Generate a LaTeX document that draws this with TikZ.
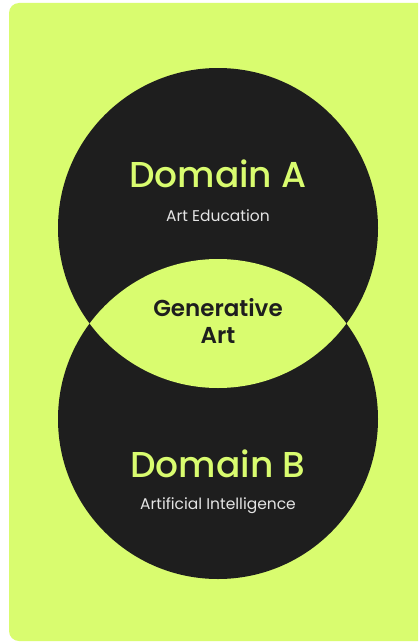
\documentclass[tikz,border=0pt]{standalone}
\usepackage{fontspec}
\setmainfont{Poppins}
\newfontfamily\medfont{Poppins Medium}
\newfontfamily\semifont{Poppins SemiBold}
\definecolor{lime}{HTML}{D9FC6F}
\definecolor{ink}{HTML}{1E1E1E}
\definecolor{pale}{HTML}{E4E4E4}
\def\rad{160}
\def\cx{218}

\begin{document}
\begin{tikzpicture}[x=1pt,y=-1pt,
    domaincircle/.style={
      circle,fill=ink,minimum size=320pt,inner sep=0pt
    },
    titletext/.style={
      anchor=base,inner sep=0pt,text=lime,font=\medfont\fontsize{36}{40}\selectfont
    },
    subtext/.style={
      anchor=base,inner sep=0pt,text=pale,font=\fontsize{15.5}{18}\selectfont
    },
    lenstext/.style={
      anchor=base,inner sep=0pt,text=ink,font=\semifont\fontsize{23}{26}\selectfont
    }
  ]
    \useasboundingbox (0,0) rectangle (418,642);
    \clip (0,0) rectangle (418,642);
    \fill[white] (0,0) rectangle (418,642);
    \fill[lime,rounded corners=10pt] (9,3) rectangle (440,641);

    % circles
    \node[domaincircle] (DomA) at (\cx,228) {};
    \node[domaincircle] (DomB) at (\cx,419) {};

    % overlap
    \begin{scope}
      \clip (DomA.center) circle[radius=\rad];
      \fill[lime] (DomB.center) circle[radius=\rad];
    \end{scope}

    % texts
    \node[titletext] (TitleA) at (\cx,187) {Domain A};
    \node[subtext]   (SubA)   at (\cx,221) {Art Education};
    \node[lenstext]  (GenA)   at (\cx,316) {Generative};
    \node[lenstext]  (GenB)   at (\cx,343) {Art};
    \node[titletext] (TitleB) at (\cx,477) {Domain B};
    \node[subtext]   (SubB)   at (\cx,509) {Artificial Intelligence};
  \end{tikzpicture}
\end{document}
